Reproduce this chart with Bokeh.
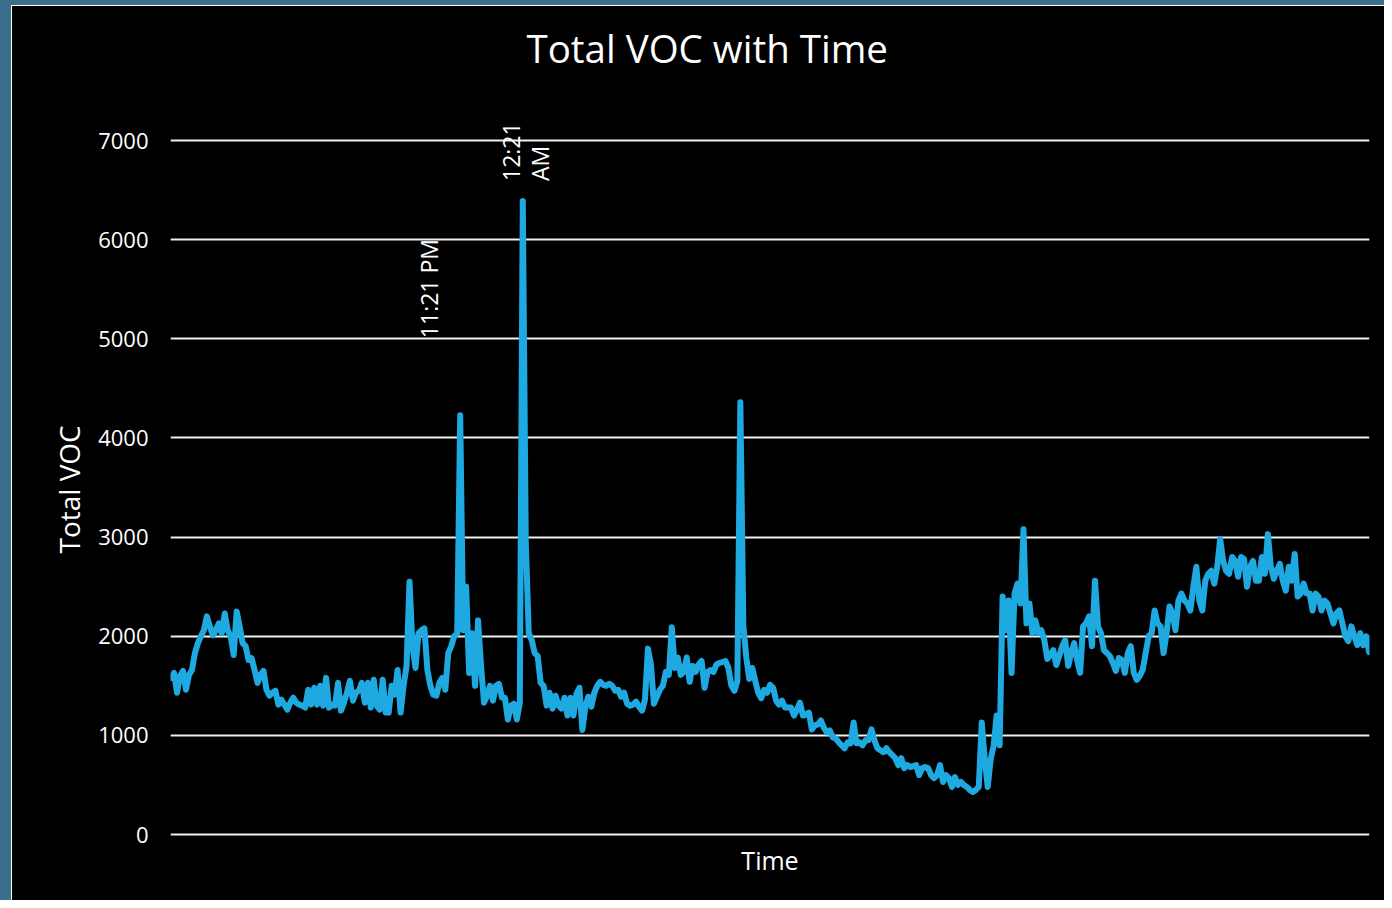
import math
from bokeh.plotting import figure
from bokeh.models import ColumnDataSource, Range1d, FixedTicker, Label, Title
from bokeh.layouts import column
from bokeh.embed import file_html
from bokeh.resources import INLINE

# ---- data (Total VOC readings, evenly spaced in time) ----
seg_a = [1580, 1630, 1430, 1600, 1650, 1460, 1610, 1660, 1830, 1930,
         2000, 2060, 2200, 2100, 2010, 2060, 2130, 2030, 2230, 2060,
         2000, 1810, 2250, 2100, 1930, 1900, 1760, 1780, 1660, 1530,
         1610, 1650, 1460, 1400, 1430, 1450, 1310, 1360, 1310,
         1260, 1330, 1380, 1330, 1310, 1300, 1280, 1460, 1310, 1480,
         1310, 1500, 1300, 1580, 1280, 1310, 1300, 1530, 1250, 1330,
         1430, 1550, 1350, 1430, 1450, 1530, 1330, 1530, 1280, 1560,
         1300, 1260, 1560, 1230, 1230, 1500, 1410, 1660, 1230,
         1500, 1700, 2550, 1900, 1680, 2030, 2060, 2080, 1660, 1500,
         1410, 1400, 1530, 1580, 1460, 1830, 1900, 2000, 2030, 4230]
seg_b1 = [2060, 2500, 1630, 2030, 1500, 2160, 1700, 1330, 1400, 1500,
          1350, 1500, 1520, 1380, 1380, 1160, 1300, 1320, 1160, 1330, 6390]
seg_b2 = [2960, 2030, 1960, 1830, 1800, 1530, 1500, 1300, 1430, 1270,
          1400, 1300, 1270, 1380, 1200, 1380, 1200, 1420, 1480, 1055]
seg_b3 = [1290, 1390, 1290, 1430, 1500, 1540, 1510, 1500, 1520, 1500, 1450,
          1460, 1390, 1430, 1320, 1300, 1310, 1340, 1290, 1250, 1360, 1875,
          1715, 1320, 1390, 1460, 1500, 1640, 1610, 2090, 1680, 1785,
          1610, 1640, 1785, 1540, 1700, 1640, 1715, 1750, 1480, 1640,
          1660, 1640, 1715, 1730, 1740, 1750, 1680, 1500, 1450, 1550, 4360]
seg_b4 = [2110, 1785, 1570, 1680, 1550, 1430, 1375, 1460]
seg_c = [1430, 1510, 1480, 1350, 1310, 1350, 1280, 1280, 1280, 1200,
         1260, 1330, 1200, 1210, 1230, 1060, 1100, 1110, 1150, 1080,
         1030, 1050, 980, 970, 930, 900, 870, 930, 920, 1130,
         920, 930, 900, 950, 950, 1060, 950, 870, 850, 830, 870,
         830, 800, 770, 700, 770, 670, 700, 680, 690, 700, 600, 670,
         680, 670, 600, 570, 600, 700]
seg_d = [530, 600, 570, 480, 580, 500, 530, 500, 480, 450,
         430, 450, 480, 1130, 760, 480, 760, 900, 1200, 900]
seg_d2 = [2400, 2060, 2360, 1630, 2430, 2530, 2330, 3080,
          2130, 2330, 2030, 2160, 2030, 2060, 1960, 1770, 1810,
          1860, 1710]
seg_e = [1800, 1900, 1960, 1700, 1830, 1930, 1760, 1630, 2100,
         2130, 2200, 1900, 2560, 2100, 2030, 1860, 1830, 1800, 1730,
         1650, 1780, 1760, 1630, 1830, 1900, 1630, 1560, 1600, 1660,
         1830, 2000, 2030, 2260, 2130, 2100, 1830, 2030, 2300, 2230,
         2060, 2360, 2430, 2360, 2330, 2260, 2500, 2700, 2360, 2260,
         2560, 2630, 2660, 2530, 2700, 2980, 2760, 2660, 2630, 2800,
         2760, 2600, 2800, 2780, 2500, 2700, 2760, 2560, 2560, 2800,
         2630, 3030, 2700, 2580, 2660, 2730, 2560, 2460, 2700, 2560,
         2830, 2400, 2430, 2530, 2430, 2430, 2260, 2430, 2400, 2260,
         2360, 2330, 2230, 2130, 2230, 2260, 2130, 2000, 1950, 2100,
         2000, 1910, 2030, 1910, 2000, 1840]

voc = seg_a + seg_b1 + seg_b2 + seg_b3 + seg_b4 + seg_c + seg_d + seg_d2 + seg_e
sample = list(range(len(voc)))

y_ticks = [0, 1000, 2000, 3000, 4000, 5000, 6000, 7000]
label_texts = ["11:21 PM", "12:21\nAM"]
label_points = [len(seg_a) - 1, len(seg_a) + len(seg_b1) - 1]

FONT = "Open Sans"
LINE_COLOR = "#1ea9e0"

src = ColumnDataSource(data=dict(t=sample, voc=voc))

p = figure(width=1372, height=894, output_backend="svg", toolbar_location=None,
           x_range=Range1d(-0.2, len(voc) - 0.9), y_range=Range1d(-20, 7545),
           min_border_left=158, min_border_right=15, min_border_top=76,
           min_border_bottom=64, title=None,
           styles={"background-color": "black"})
p.background_fill_color = "black"
p.border_fill_color = "black"
p.outline_line_color = None

p.add_layout(Title(text="Total VOC with Time", align="left", offset=356,
                   text_color="white", text_font=FONT, text_font_size="38.5px",
                   text_font_style="normal", standoff=26), "above")

p.line("t", "voc", source=src, line_color=LINE_COLOR, line_width=6,
       line_join="round", line_cap="round")

# grid
p.xgrid.grid_line_color = None
p.ygrid.ticker = FixedTicker(ticks=y_ticks)
p.ygrid.grid_line_color = "#f0f0f0"
p.ygrid.grid_line_width = 2

# y axis
p.yaxis.ticker = FixedTicker(ticks=y_ticks)
p.yaxis.axis_line_color = None
p.yaxis.major_tick_line_color = None
p.yaxis.minor_tick_line_color = None
p.yaxis.major_tick_out = 0
p.yaxis.major_label_standoff = 22
p.yaxis.major_label_text_color = "white"
p.yaxis.major_label_text_font = FONT
p.yaxis.major_label_text_font_size = "22px"
p.add_layout(Title(text="Total VOC", align="left", offset=283,
                   text_color="white", text_font=FONT, text_font_size="28px",
                   text_font_style="normal", standoff=16), "left")

# x axis
p.xaxis.ticker = FixedTicker(ticks=[])
p.xaxis.axis_line_color = None
p.xaxis.major_tick_line_color = None
p.xaxis.minor_tick_line_color = None
p.xaxis.major_label_text_font_size = "0px"
p.xaxis.axis_label = "Time"
p.xaxis.axis_label_text_color = "white"
p.xaxis.axis_label_text_font = FONT
p.xaxis.axis_label_text_font_size = "25px"
p.xaxis.axis_label_text_font_style = "normal"
p.xaxis.axis_label_standoff = 6

# data labels
offsets = [(-31, 77), (3, 20)]
for txt, idx, (dx, dy) in zip(label_texts, label_points, offsets):
    p.add_layout(Label(x=sample[idx], y=voc[idx], text=txt, angle=math.pi / 2,
                       x_offset=dx, y_offset=dy, text_align="left",
                       text_baseline="middle", text_color="white",
                       text_font=FONT, text_font_size="23px",
                       text_line_height=0.9))

inner = column(p, styles={"background-color": "white",
                          "padding-left": "1px", "padding-top": "1px"})
layout = column(inner, styles={"background-color": "#3a6e8c",
                               "padding-left": "11px", "padding-top": "5px"})

open("out.html", "w").write(file_html(layout, INLINE))
